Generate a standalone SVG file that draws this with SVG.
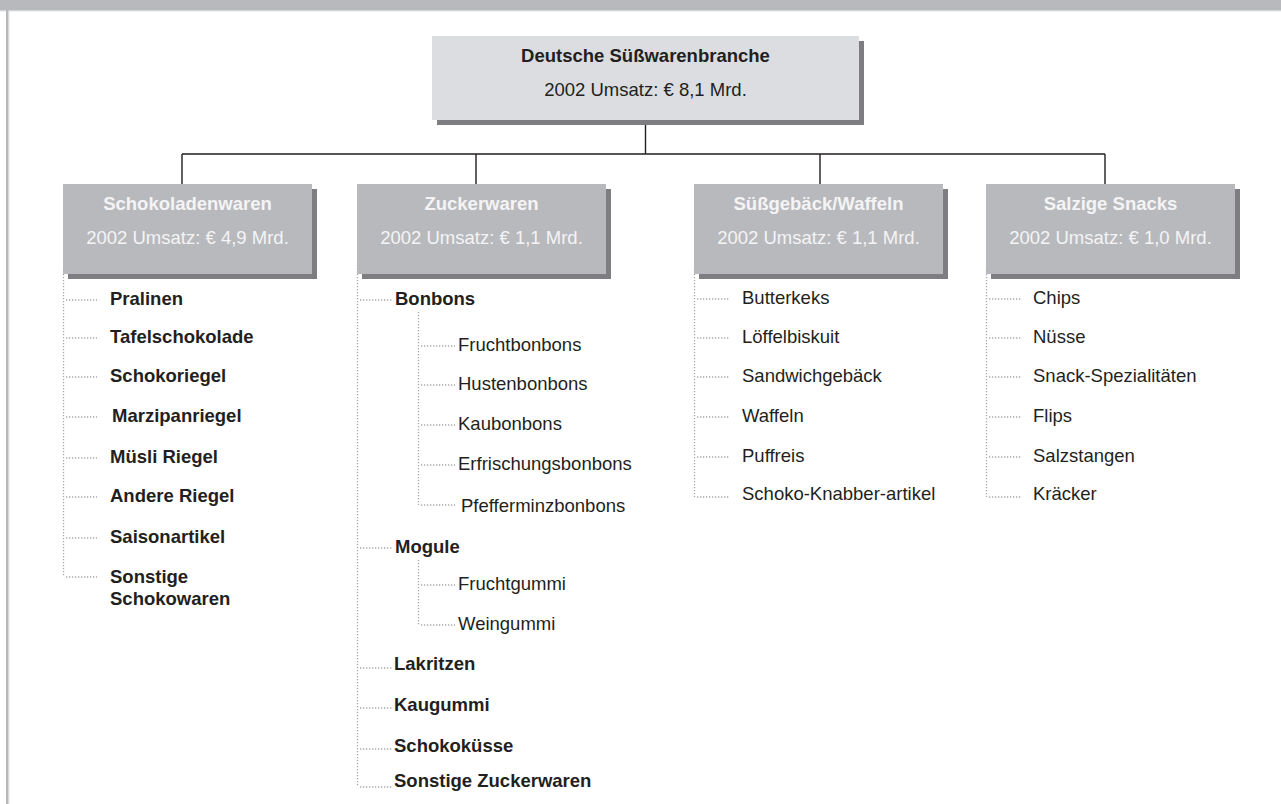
<svg xmlns="http://www.w3.org/2000/svg" width="1281" height="804" viewBox="0 0 1281 804">
<style>
text{font-family:"Liberation Sans",Arial,sans-serif;font-size:18.5px;fill:#231f20}
.b{font-weight:bold}
.ct{fill:#f4f4f5;text-anchor:middle}
.tt{text-anchor:middle}
.face{fill:#b8b9bd}
.top{fill:#dcdde0}
.sh{fill:#7e7e82}
.conn{stroke:#231f20;stroke-width:1.4;fill:none}
.dot{stroke:#a8a8a8;stroke-width:1.3;stroke-dasharray:1.3 1.7;fill:none}
</style>
<rect x="0" y="0" width="1281" height="804" fill="#ffffff"/>
<rect x="0" y="0" width="1281" height="10" fill="#b8b9bd"/>
<rect x="0" y="10" width="1281" height="1.3" fill="#d2d3d6"/>
<rect x="6" y="10" width="2.2" height="794" fill="#b8b9bd"/>
<rect x="8.2" y="11" width="1" height="793" fill="#d2d3d6"/>

<g id="connectors">
<path class="conn" d="M645.5 124V154M182 154H1105M182 154V184M476 154V184M820 154V184M1105 154V184"/>
<path class="dot" d="M63.5 268V577M66 300H97M66 338H97M66 377H97M66 417H97M66 458H97M66 497H97M66 538H97M66 577H97"/>
<path class="dot" d="M357.5 262V787M360 300H393M360 548H393M360 668H393M360 708H393M360 749H393M360 787H393"/>
<path class="dot" d="M418.5 312V505M421 346H455M421 385H455M421 425H455M421 465H455M421 505H455"/>
<path class="dot" d="M418.5 560V625M421 585H455M421 625H455"/>
<path class="dot" d="M694.5 268V497M697 299H730M697 338H730M697 377H730M697 417H730M697 457H730M697 497H730"/>
<path class="dot" d="M986.5 268V497M989 299H1022M989 338H1022M989 377H1022M989 417H1022M989 457H1022M989 497H1022"/>
</g>

<g id="root">
<rect class="sh" x="437" y="41" width="427" height="84"/>
<rect class="top" x="432" y="36" width="427" height="84"/>
<text class="b tt" x="645.5" y="62">Deutsche Süßwarenbranche</text>
<text class="tt" x="645.5" y="96">2002 Umsatz: € 8,1 Mrd.</text>
</g>

<g id="schokoladenwaren">
<rect class="sh" x="68" y="189" width="249" height="90"/>
<rect class="face" x="63" y="184" width="249" height="90"/>
<text class="b ct" x="187.5" y="210">Schokoladenwaren</text>
<text class="ct" x="187.5" y="244">2002 Umsatz: € 4,9 Mrd.</text>
</g>
<g id="zuckerwaren">
<rect class="sh" x="362" y="189" width="249" height="90"/>
<rect class="face" x="357" y="184" width="249" height="90"/>
<text class="b ct" x="481.5" y="210">Zuckerwaren</text>
<text class="ct" x="481.5" y="244">2002 Umsatz: € 1,1 Mrd.</text>
</g>
<g id="suessgebaeck">
<rect class="sh" x="699" y="189" width="249" height="90"/>
<rect class="face" x="694" y="184" width="249" height="90"/>
<text class="b ct" x="818.5" y="210">Süßgebäck/Waffeln</text>
<text class="ct" x="818.5" y="244">2002 Umsatz: € 1,1 Mrd.</text>
</g>
<g id="salzige-snacks">
<rect class="sh" x="991" y="189" width="249" height="90"/>
<rect class="face" x="986" y="184" width="249" height="90"/>
<text class="b ct" x="1110.5" y="210">Salzige Snacks</text>
<text class="ct" x="1110.5" y="244">2002 Umsatz: € 1,0 Mrd.</text>
</g>

<g id="schoko-items" class="b">
<text class="b" x="110" y="305">Pralinen</text>
<text class="b" x="110" y="343">Tafelschokolade</text>
<text class="b" x="110" y="382">Schokoriegel</text>
<text class="b" x="112" y="422">Marzipanriegel</text>
<text class="b" x="110" y="463">Müsli Riegel</text>
<text class="b" x="110" y="502">Andere Riegel</text>
<text class="b" x="110" y="543">Saisonartikel</text>
<text class="b" x="110" y="583">Sonstige</text>
<text class="b" x="110" y="605">Schokowaren</text>
</g>

<g id="zucker-items">
<text class="b" x="395" y="305">Bonbons</text>
<text x="458" y="351">Fruchtbonbons</text>
<text x="458" y="390">Hustenbonbons</text>
<text x="458" y="430">Kaubonbons</text>
<text x="458" y="470">Erfrischungsbonbons</text>
<text x="461" y="512">Pfefferminzbonbons</text>
<text class="b" x="395" y="553">Mogule</text>
<text x="458" y="590">Fruchtgummi</text>
<text x="458" y="630">Weingummi</text>
<text class="b" x="394" y="670">Lakritzen</text>
<text class="b" x="394" y="711">Kaugummi</text>
<text class="b" x="394" y="752">Schokoküsse</text>
<text class="b" x="394" y="787">Sonstige Zuckerwaren</text>
</g>

<g id="suess-items">
<text x="742" y="304">Butterkeks</text>
<text x="742" y="343">Löffelbiskuit</text>
<text x="742" y="382">Sandwichgebäck</text>
<text x="742" y="422">Waffeln</text>
<text x="742" y="462">Puffreis</text>
<text x="742" y="500">Schoko-Knabber-artikel</text>
</g>

<g id="salz-items">
<text x="1033" y="304">Chips</text>
<text x="1033" y="343">Nüsse</text>
<text x="1033" y="382">Snack-Spezialitäten</text>
<text x="1033" y="422">Flips</text>
<text x="1033" y="462">Salzstangen</text>
<text x="1033" y="500">Kräcker</text>
</g>
</svg>
